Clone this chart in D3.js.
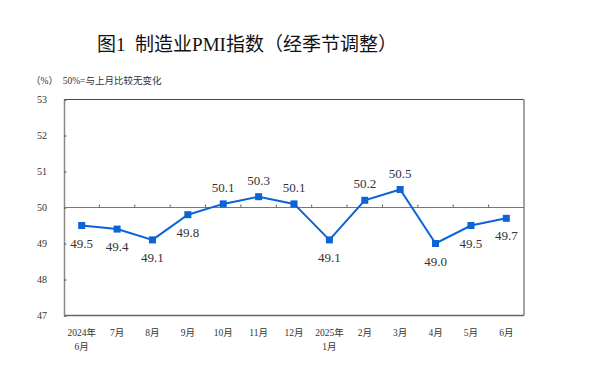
<!DOCTYPE html>
<meta charset="utf-8">
<head>
<title>制造业PMI指数</title>
<script src="https://d3js.org/d3.v7.min.js"></script>
<style>
  body { margin: 0; background: #fff; }
  svg text { font-family: "Liberation Serif", "Noto Sans CJK SC", serif; white-space: pre; }
</style>
</head>
<body>
<svg id="chart" width="600" height="384"></svg>
<script>
// 月份（第二行为空时只显示一行）
var months = ["2024年", "7月", "8月", "9月", "10月", "11月", "12月", "2025年", "2月", "3月", "4月", "5月", "6月"]
var months2 = ["6月", "", "", "", "", "", "", "1月", "", "", "", "", ""]
var pmi = [49.5, 49.4, 49.1, 49.8, 50.1, 50.3, 50.1, 49.1, 50.2, 50.5, 49.0, 49.5, 49.7]
var yTicks = [47, 48, 49, 50, 51, 52, 53]

var svg = d3.select("#chart")
var margin = {top: 99.5, left: 64, right: 76, bottom: 68.5}
var innerWidth = 600 - margin.left - margin.right
var innerHeight = 384 - margin.top - margin.bottom

// 标题
svg.append("text")
  .attr("x", 247).attr("y", 51)
  .attr("text-anchor", "middle")
  .style("font-size", "19px")
  .attr("fill", "#111")
  .text("图1  制造业PMI指数（经季节调整）")

svg.append("text")
  .attr("x", 31).attr("y", 84)
  .style("font-size", "9.5px")
  .attr("fill", "#333")
  .text("（%）  50%=与上月比较无变化")

var g = svg.append("g")
  .attr("transform", `translate(${margin.left}, ${margin.top})`)

var x = d3.scaleBand()
  .domain(d3.range(months.length))
  .range([0, innerWidth])

var y = d3.scaleLinear()
  .domain([47, 53])
  .range([innerHeight, 0])

// 边框
g.append("line").attr("x1", 0).attr("x2", innerWidth).attr("y1", 0).attr("y2", 0)
  .attr("stroke", "#444").attr("stroke-width", 1.2)
g.append("line").attr("x1", innerWidth).attr("x2", innerWidth).attr("y1", 0).attr("y2", innerHeight)
  .attr("stroke", "#999").attr("stroke-width", 1.8)
g.append("line").attr("x1", 0).attr("x2", innerWidth).attr("y1", innerHeight).attr("y2", innerHeight)
  .attr("stroke", "#666").attr("stroke-width", 1.5)

// Y 轴
var yAxis = g.append("g")
  .call(d3.axisRight(y).tickValues(yTicks).tickSize(2.5).tickFormat(""))
yAxis.select(".domain").attr("stroke", "#888").attr("stroke-width", 1.5)
yAxis.selectAll(".tick line").attr("stroke", "#555")

g.selectAll(".ylab")
  .data(yTicks)
  .enter()
  .append("text")
  .attr("x", -17)
  .attr("y", d => y(d) + 3.5)
  .attr("text-anchor", "end")
  .style("font-size", "10px")
  .attr("fill", "#333")
  .text(d => d)

// 50 线及刻度
var y50 = y(50)
g.append("line").attr("x1", 0).attr("x2", innerWidth).attr("y1", y50).attr("y2", y50)
  .attr("stroke", "#777").attr("stroke-width", 1)
g.selectAll(".xtick")
  .data(d3.range(1, months.length))
  .enter()
  .append("line")
  .attr("x1", d => x(d)).attr("x2", d => x(d))
  .attr("y1", y50).attr("y2", y50 - 3)
  .attr("stroke", "#666")

// X 轴标签（两行）
var cx = (d, i) => x(i) + x.bandwidth() / 2
g.selectAll(".xlab")
  .data(months)
  .enter()
  .append("text")
  .attr("x", cx)
  .attr("y", innerHeight + 20)
  .attr("text-anchor", "middle")
  .style("font-size", "9.5px")
  .attr("fill", "#333")
  .text(d => d)
g.selectAll(".xlab2")
  .data(months2.map((m, i) => ({m: m, i: i})).filter(d => d.m))
  .enter()
  .append("text")
  .attr("x", d => cx(d, d.i))
  .attr("y", innerHeight + 34)
  .attr("text-anchor", "middle")
  .style("font-size", "9.5px")
  .attr("fill", "#333")
  .text(d => d.m)

// 折线
g.append("path")
  .datum(pmi)
  .attr("d", d3.line().x(cx).y(d => y(d)))
  .attr("fill", "none")
  .attr("stroke", "#0b63d6")
  .attr("stroke-width", 2)

g.selectAll(".dot")
  .data(pmi)
  .enter()
  .append("rect")
  .attr("x", (d, i) => cx(d, i) - 3.5)
  .attr("y", d => y(d) - 3.5)
  .attr("width", 7).attr("height", 7)
  .attr("fill", "#0b63d6")

// 数据标签：高于50在上方，否则在下方
g.selectAll(".vlab")
  .data(pmi)
  .enter()
  .append("text")
  .attr("x", cx)
  .attr("y", d => d > 50 ? y(d) - 12 : y(d) + 22)
  .attr("text-anchor", "middle")
  .style("font-size", "13px")
  .attr("fill", "#333")
  .text(d => d.toFixed(1))
</script>
</body>
